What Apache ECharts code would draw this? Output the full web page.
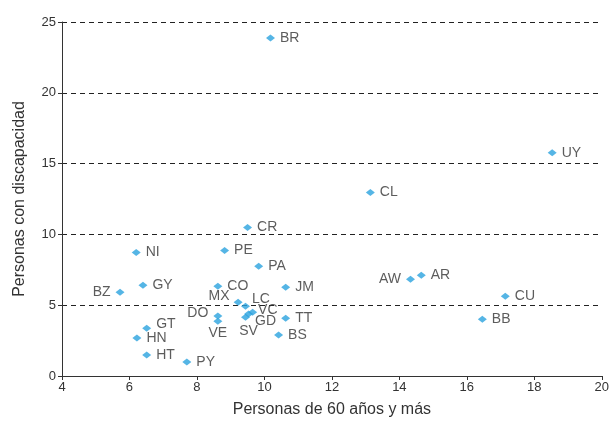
<!DOCTYPE html>
<html>
<head>
<meta charset="utf-8">
<script src="https://cdn.jsdelivr.net/npm/echarts@6/dist/echarts.min.js"></script>
<style>html,body{margin:0;padding:0;background:#fff}#c{width:612px;height:423px}</style>
</head>
<body>
<div id="c"></div>
<script>
var codes = ['BR','UY','CL','CR','NI','PE','PA','JM','CO','GY','BZ','AW','AR','CU','BB','MX','LC','VC','GD','SV','DO','VE','TT','BS','GT','HN','HT','PY'];
var xVals = [10.18,18.53,13.14,9.50,6.20,8.82,9.83,10.63,8.62,6.40,5.72,14.33,14.65,17.14,16.46,9.22,9.44,9.65,9.53,9.44,8.62,8.62,10.63,10.42,6.51,6.22,6.51,7.70];
var yVals = [23.87,15.77,12.96,10.49,8.73,8.87,7.75,6.27,6.34,6.41,5.92,6.83,7.11,5.63,4.01,5.21,4.93,4.51,4.37,4.15,4.23,3.87,4.08,2.89,3.38,2.68,1.48,0.99];
var xTicks = [4,6,8,10,12,14,16,18,20];
var yTicks = [0,5,10,15,20,25];

var labelStyle = {
  BZ: {position:'left'},
  AW: {position:'left'},
  DO: {position:'left', offset:[0,-3]},
  MX: {position:'left', offset:[1,-6]},
  LC: {position:'right', offset:[-3,-7]},
  VC: {position:'right', offset:[-4,-2]},
  GD: {position:'right', offset:[-3,7]},
  SV: {position:'bottom', offset:[3,-2]},
  VE: {position:'bottom', offset:[0,-4]},
  GT: {position:'right', offset:[0,-4]}
};

var data = codes.map(function(c,i){
  var d = {name:c, value:[xVals[i], yVals[i]]};
  if (labelStyle[c]) d.label = labelStyle[c];
  return d;
});

var chart = echarts.init(document.getElementById('c'), null, {renderer:'canvas'});
var font = 'Liberation Sans, Arial, sans-serif';
chart.setOption({
  animation:false,
  grid:{left:62, right:9, top:22, bottom:46},
  xAxis:{
    type:'value', min:4, max:20, interval:2,
    name:'Personas de 60 años y más', nameLocation:'middle', nameGap:26,
    nameTextStyle:{fontFamily:font, fontSize:16, color:'#333'},
    axisLine:{show:true, lineStyle:{color:'#333', width:1}},
    axisTick:{show:true, length:4, lineStyle:{color:'#333'}},
    axisLabel:{fontFamily:font, fontSize:13, color:'#333', margin:5,
      formatter:function(v){return xTicks.indexOf(v)>=0 ? String(v) : '';}},
    splitLine:{show:false}
  },
  yAxis:{
    type:'value', min:0, max:25, interval:5,
    name:'Personas con discapacidad', nameLocation:'middle', nameGap:34,
    nameTextStyle:{fontFamily:font, fontSize:16, color:'#333'},
    axisLine:{show:true, lineStyle:{color:'#333', width:1}},
    axisTick:{show:true, length:4, lineStyle:{color:'#333'}},
    axisLabel:{fontFamily:font, fontSize:13, color:'#333', margin:6,
      formatter:function(v){return yTicks.indexOf(v)>=0 ? String(v) : '';}},
    splitLine:{show:true, lineStyle:{color:'#222', type:[5,4], width:1}}
  },
  series:[{
    type:'scatter',
    symbol:'diamond',
    symbolSize:[9,7],
    itemStyle:{color:'#2BA3DE'},
    label:{show:true, position:'right', distance:5, formatter:'{b}',
      fontFamily:font, fontSize:14, color:'#333'},
    data:data
  }]
});
</script>
</body>
</html>
